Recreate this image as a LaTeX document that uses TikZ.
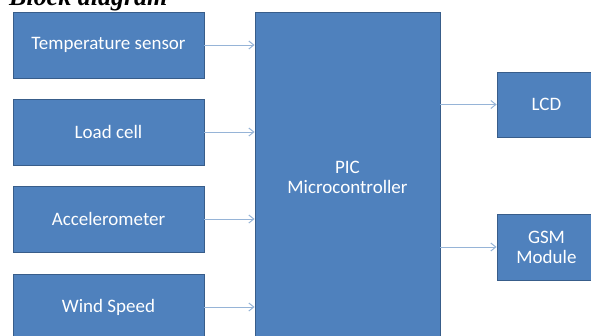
\documentclass[tikz,border=0pt]{standalone}
\usepackage{fontspec}
\setmainfont{Carlito}
\newfontfamily\titlefont{Liberation Serif}
\definecolor{boxblue}{RGB}{79, 129, 189}
\definecolor{edgeblue}{RGB}{56, 93, 138}
\definecolor{linkblue}{RGB}{150, 180, 215}
\usetikzlibrary{arrows.meta, positioning, calc}

\tikzset{
  blockbox/.style={draw=edgeblue, fill=boxblue, line width=0.8pt, text=white, align=center, inner sep=0pt, font=\fontsize{19}{20}\selectfont},
  link/.style={draw=linkblue, line width=1pt, -{Straight Barb[length=5pt, width=8pt]}}
}

\begin{document}
\begin{tikzpicture}[x=1pt, y=-1pt]
  \useasboundingbox (0, 0) rectangle (591, 335);

  % title, cut at the top edge
  \node[anchor=base west, inner sep=0pt, font=\titlefont\fontsize{26}{30}\selectfont\bfseries\itshape] (title) at (9, 5) {Block diagram};

  % sensors
  \node[blockbox, minimum width=191pt, minimum height=66pt] (temp) at (108.5, 45) {Temperature sensor};
  \node[blockbox, minimum width=191pt, minimum height=66pt] (load) at (108.5, 132) {Load cell};
  \node[blockbox, minimum width=191pt, minimum height=66pt] (accel) at (108.5, 219) {Accelerometer};
  \node[blockbox, minimum width=191pt, minimum height=66pt] (wind) at (108.5, 307) {Wind Speed};

  % controller
  \node[blockbox, minimum width=185pt, minimum height=330pt] (pic) at (347.5, 177) {PIC\\Microcontroller};

  % outputs
  \node[blockbox, minimum width=99pt, minimum height=65pt] (lcd) at (546.5, 104.5) {LCD};
  \node[blockbox, minimum width=99pt, minimum height=66pt] (gsm) at (546.5, 247) {GSM\\Module};

  \draw[link] (temp.east) -- (temp.east -| pic.west);
  \draw[link] (load.east) -- (load.east -| pic.west);
  \draw[link] (accel.east) -- (accel.east -| pic.west);
  \draw[link] (wind.east) -- (wind.east -| pic.west);
  \draw[link] (pic.east |- lcd.west) -- (lcd.west);
  \draw[link] (pic.east |- gsm.west) -- (gsm.west);
\end{tikzpicture}
\end{document}
